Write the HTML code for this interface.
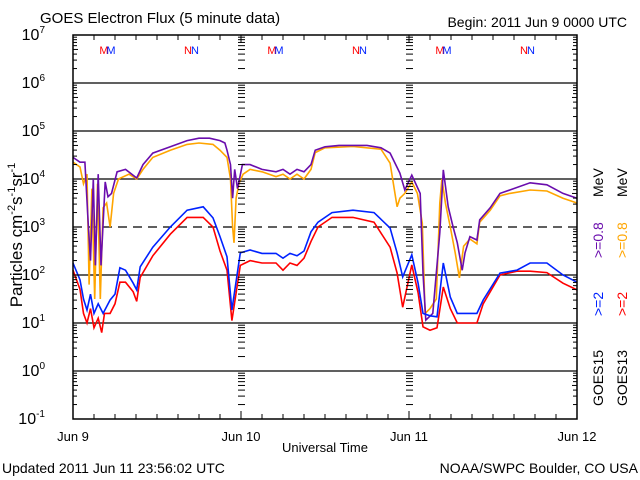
<!DOCTYPE html>
<html><head><meta charset="utf-8"><style>
html,body{margin:0;padding:0;background:#fff;}
svg{display:block;font-family:"Liberation Sans",sans-serif;}
</style></head><body>
<svg id="chart" width="640" height="480" viewBox="0 0 640 480" xmlns="http://www.w3.org/2000/svg">
<rect width="640" height="480" fill="#fff"/>
<text x="40" y="23" font-size="15">GOES Electron Flux (5 minute data)</text>
<text x="627" y="27" font-size="14" text-anchor="end">Begin: 2011 Jun 9 0000 UTC</text>
<text x="2" y="473" font-size="14">Updated 2011 Jun 11 23:56:02 UTC</text>
<text x="638" y="473" font-size="14" text-anchor="end">NOAA/SWPC Boulder, CO USA</text>
<text x="325" y="452" font-size="13" text-anchor="middle">Universal Time</text>
<text transform="translate(22,235) rotate(-90)" font-size="17" text-anchor="middle">Particles cm<tspan dy="-7" font-size="11">-2</tspan><tspan dy="7">s</tspan><tspan dy="-7" font-size="11">-1</tspan><tspan dy="7">sr</tspan><tspan dy="-7" font-size="11">-1</tspan></text>
<g id="layer-grid"></g>
<g id="layer-series"></g>
<g id="layer-axes"></g>
<g id="layer-legend" font-size="14">
<text transform="translate(603,406) rotate(-90)">GOES15</text>
<text transform="translate(603,316) rotate(-90)" fill="#0022ff">&gt;=2</text>
<text transform="translate(603,258) rotate(-90)" fill="#6a0dad">&gt;=0.8</text>
<text transform="translate(603,197) rotate(-90)">MeV</text>
<text transform="translate(627,406) rotate(-90)">GOES13</text>
<text transform="translate(627,316) rotate(-90)" fill="#ff0000">&gt;=2</text>
<text transform="translate(627,258) rotate(-90)" fill="#ffa500">&gt;=0.8</text>
<text transform="translate(627,197) rotate(-90)">MeV</text>
</g>
</svg>
<script>
const dayLabels = ["Jun 9","Jun 10","Jun 11","Jun 12"];
const decadeExps = [-1,0,1,2,3,4,5,6,7];
const mnMarks = [["M",5],["N",17],["M",29],["N",41],["M",53],["N",65]];
const g15Hi = [[0,4.45],[1,4.35],[1.7,4.35],[2.2,3.0],[2.5,2.3],[2.9,4.0],[3.2,2.2],[3.6,4.1],[4.0,2.2],[4.6,3.94],[5,3.63],[5.5,3.7],[6.3,4.15],[7.5,4.2],[9.1,4.02],[10,4.3],[11.4,4.54],[13.9,4.67],[16.3,4.8],[18,4.85],[19.5,4.85],[21,4.8],[21.7,4.75],[22,4.6],[22.5,4.3],[22.8,3.6],[23.1,4.2],[23.5,3.8],[24.2,4.3],[25.3,4.3],[27,4.2],[29,4.15],[30,4.2],[31,4.1],[32,4.2],[33,4.15],[34,4.3],[34.6,4.6],[36,4.67],[38,4.7],[40,4.7],[42,4.7],[44,4.65],[45.3,4.54],[46.7,4.12],[47.4,3.77],[48.4,4.08],[49.6,3.7],[50,2.04],[50.4,1.06],[51.4,1.2],[52.4,2.88],[52.9,4.19],[53.6,3.42],[54.3,3.0],[54.9,2.67],[55.6,2.1],[56,2.46],[56.7,2.8],[57.7,2.73],[58.1,3.15],[59.6,3.4],[61,3.7],[62.4,3.77],[65.3,3.92],[67.7,3.88],[70,3.7],[72,3.6]];
const g13Hi = [[0,4.35],[1,4.25],[1.5,3.9],[2,4.1],[2.3,1.8],[2.7,3.8],[3.1,1.5],[3.5,3.9],[3.9,1.5],[4.3,3.4],[4.8,3.5],[5.3,3.0],[5.8,3.7],[6.5,4.0],[8,4.1],[9.1,4.0],[10,4.2],[11.4,4.45],[13.9,4.6],[16.3,4.72],[18,4.75],[20,4.72],[21,4.6],[22,4.45],[22.5,4.0],[22.8,3.0],[23.0,2.67],[23.3,3.6],[23.7,3.9],[24.3,4.1],[25.3,4.2],[27,4.15],[29,4.05],[30,4.1],[31,4.0],[32,4.1],[33,4.0],[34,4.2],[34.6,4.55],[36,4.65],[40,4.68],[44,4.62],[45.3,4.33],[46.3,3.42],[46.7,3.6],[47.4,3.7],[48.4,3.94],[49.2,3.7],[49.9,3.08],[50.3,1.2],[51,1.3],[51.9,1.5],[52.4,3.5],[52.7,4.0],[53.2,3.5],[53.9,3.0],[54.6,2.46],[55.2,1.94],[55.8,2.6],[56.7,2.75],[57.7,2.65],[58.1,3.1],[59.6,3.35],[61,3.65],[62.4,3.7],[65.3,3.77],[67.7,3.75],[70,3.6],[72,3.5]];
const g15Lo = [[0,2.25],[1,1.9],[1.5,1.5],[2,1.27],[2.5,1.6],[3,1.2],[3.6,1.4],[4.3,1.2],[5.3,1.48],[6,1.6],[6.7,2.15],[7.5,2.1],[8.6,1.83],[9.1,1.69],[9.6,2.17],[11.4,2.58],[13.9,3.0],[16.3,3.35],[18.6,3.42],[20,3.19],[21,2.8],[22,2.38],[22.7,1.27],[23.9,2.46],[25.3,2.52],[27,2.45],[29,2.45],[30,2.35],[31,2.45],[32,2.4],[33,2.5],[34,2.9],[35,3.1],[37,3.3],[40,3.35],[43,3.3],[45.3,2.98],[46.3,2.46],[47.1,1.96],[48.4,2.42],[49.3,1.83],[50,1.2],[51,1.15],[52,1.13],[52.9,2.25],[53.9,1.54],[54.9,1.2],[57.7,1.2],[58.6,1.48],[61,2.04],[63.4,2.1],[65.3,2.25],[67.7,2.25],[70,2.0],[72,1.85]];
const g13Lo = [[0,2.1],[1,1.7],[1.5,1.2],[2,1.0],[2.5,1.3],[3,0.9],[3.6,1.1],[4.1,0.8],[4.5,1.2],[5.3,1.2],[6,1.4],[6.7,1.85],[7.5,1.85],[8.6,1.65],[9.1,1.45],[9.6,1.95],[11.4,2.4],[13.9,2.85],[16.3,3.2],[18.6,3.2],[20,3.0],[21,2.5],[22,2.1],[22.7,1.05],[23.9,2.2],[25.3,2.3],[27,2.25],[29,2.25],[30,2.1],[31,2.25],[32,2.2],[33,2.35],[34,2.7],[35,3.0],[37,3.2],[40,3.2],[43,3.1],[45.3,2.58],[46.3,2.04],[47.1,1.33],[48.4,2.21],[49.3,1.63],[50,0.92],[51,0.85],[52,0.9],[52.9,1.75],[53.9,1.3],[54.9,1.0],[57.7,1.0],[58.6,1.4],[61,2.0],[63.4,2.08],[65.3,2.08],[67.7,2.05],[70,1.83],[72,1.69]];

const NS = "http://www.w3.org/2000/svg";
const X0 = 73, X1 = 577, Y0 = 419, Y1 = 35;
const xS = h => X0 + (X1 - X0) * h / 72;
const yS = lg => Y0 - (Y0 - Y1) * (lg + 1) / 8;
function mk(tag, attrs, parent) {
  const e = document.createElementNS(NS, tag);
  for (const k in attrs) e.setAttribute(k, attrs[k]);
  parent.appendChild(e);
  return e;
}
const grid = document.getElementById("layer-grid");
const axes = document.getElementById("layer-axes");
const series = document.getElementById("layer-series");

// horizontal decade lines
decadeExps.forEach(ex => {
  if (ex === -1 || ex === 7) return;
  const l = mk("line", {x1: X0, x2: X1, y1: yS(ex), y2: yS(ex), stroke: "#000", "stroke-width": 1.3}, grid);
  if (ex === 3) l.setAttribute("stroke-dasharray", "9,6");
  
  
});
// minor ticks: left, right, and day boundaries
for (let ex = -1; ex < 7; ex++) {
  for (let m = 2; m <= 9; m++) {
    const y = yS(ex + Math.log10(m));
    const len = (m === 5) ? 5 : 4;
    mk("line", {x1: X0, x2: X0 + len, y1: y, y2: y, stroke: "#000", "stroke-width": 1}, axes);
    mk("line", {x1: X1, x2: X1 - len, y1: y, y2: y, stroke: "#000", "stroke-width": 1}, axes);
    [24, 48].forEach(h => {
      mk("line", {x1: xS(h) - 3, x2: xS(h) + 4, y1: y, y2: y, stroke: "#000", "stroke-width": 1}, axes);
    });
  }
}
// major ticks on side axes
decadeExps.forEach(ex => {
  const y = yS(ex);
  mk("line", {x1: X0, x2: X0 + 8, y1: y, y2: y, stroke: "#000"}, axes);
  mk("line", {x1: X1, x2: X1 - 8, y1: y, y2: y, stroke: "#000"}, axes);
  const t = mk("text", {x: X0 - 21, y: y + 5, "font-size": 16, "text-anchor": "end"}, axes);
  
  
  t.textContent = "10";
  const s = mk("tspan", {dy: -7, "font-size": 10}, t);
  s.textContent = String(ex);
  t.setAttribute("x", X0 - 28);
});
// time ticks every 3h
for (let h = 0; h <= 72; h += 3) {
  const x = xS(h), len = (h % 24 === 0) ? 8 : 5;
  mk("line", {x1: x, x2: x, y1: Y0, y2: Y0 - len, stroke: "#000"}, axes);
  mk("line", {x1: x, x2: x, y1: Y1, y2: Y1 + len, stroke: "#000"}, axes);
}
dayLabels.forEach((d, i) => {
  const t = mk("text", {x: xS(i * 24), y: 441, "font-size": 13, "text-anchor": "middle"}, axes);
  
  
  t.textContent = d;
});
const frame = mk("rect", {x: X0, y: Y1, width: X1 - X0, height: Y0 - Y1, fill: "none", stroke: "#000", "stroke-width": 1.5}, axes);


// M/N markers
mnMarks.forEach(([c, h]) => {
  const a = mk("text", {x: xS(h) - 4, y: 54, "font-size": 11, fill: "#ff0000", "text-anchor": "middle"}, axes);
  
  
  a.textContent = c;
  const b = mk("text", {x: xS(h) + 3, y: 54, "font-size": 11, fill: "#0022ff", "text-anchor": "middle"}, axes);
  
  
  b.textContent = c;
});
// series
function drawSeries(data, color, name) {
  const pts = data.map(([h, v]) => xS(h).toFixed(1) + "," + yS(v).toFixed(1)).join(" ");
  const p = mk("polyline", {points: pts, fill: "none", stroke: color, "stroke-width": 1.6, "stroke-linejoin": "miter"}, series);
  
  
}
drawSeries(g13Hi, "#ffa500", "goes13-0.8mev-line");
drawSeries(g15Hi, "#6a0dad", "goes15-0.8mev-line");
drawSeries(g13Lo, "#ff0000", "goes13-2mev-line");
drawSeries(g15Lo, "#0022ff", "goes15-2mev-line");
</script>
</body></html>
